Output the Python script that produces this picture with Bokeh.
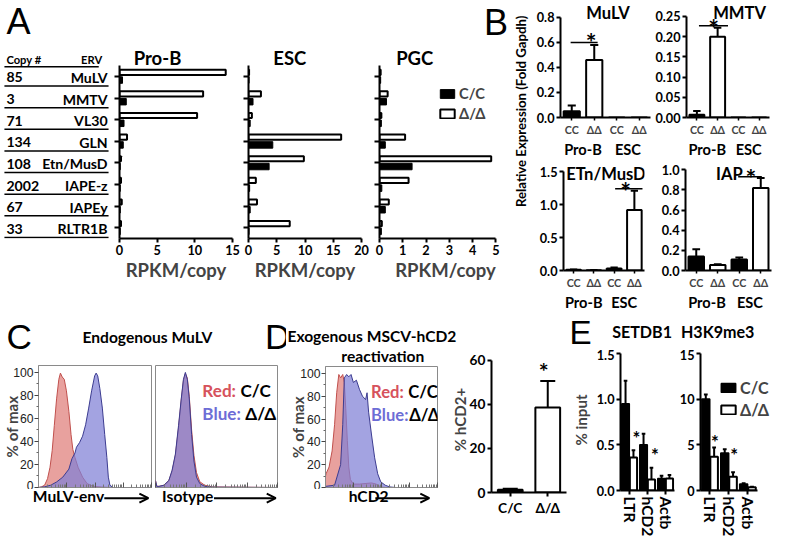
import math
from bokeh.plotting import figure
from bokeh.models import (Range1d, FactorRange, Label, Arrow, OpenHead, FixedTicker,
                          PrintfTickFormatter, Legend, LegendItem, ColumnDataSource)
from bokeh.layouts import row, column
from bokeh.core.properties import value
from bokeh.embed import file_html
from bokeh.resources import INLINE

# ---------------------------------------------------------------- data
erv_names = ["MuLV", "MMTV", "VL30", "GLN", "Etn/MusD", "IAPE-z", "IAPEy", "RLTR1B"]
copy_numbers = ["85", "3", "71", "134", "108", "2002", "67", "33"]
prob_dd = [14.1, 11.1, 10.3, 1.0, 0.2, 0.2, 0.3, 0.2]
prob_cc = [0.4, 0.9, 0.6, 0.5, 0.1, 0.1, 0.1, 0.1]
esc_dd = [0.1, 2.2, 0.6, 16.4, 9.8, 1.3, 1.5, 7.3]
esc_cc = [0.1, 0.8, 0.3, 4.3, 3.65, 0.2, 0.3, 0.1]
pgc_dd = [0.05, 0.35, 0.08, 1.1, 4.8, 1.25, 0.4, 0.1]
pgc_cc = [0.05, 0.3, 0.08, 0.25, 1.4, 0.1, 0.25, 0.08]
ticks_prob = [0, 5, 10, 15]
ticks_esc = [0, 5, 10, 15, 20]
ticks_pgc = [0, 1, 2, 3, 4, 5]

b_factors = [("Pro-B", "CC"), ("Pro-B", "ΔΔ"), ("ESC", "CC"), ("ESC", "ΔΔ")]
b_fill = ["black", "white", "black", "white"]
mulv_val = [0.05, 0.46, 0.0, 0.0]
mulv_err = [0.045, 0.12, 0.0, 0.0]
mmtv_val = [0.007, 0.20, 0.0, 0.0]
mmtv_err = [0.009, 0.022, 0.0, 0.0]
etn_val = [0.01, 0.005, 0.03, 0.92]
etn_err = [0.006, 0.003, 0.015, 0.29]
iap_val = [0.14, 0.055, 0.11, 0.82]
iap_err = [0.07, 0.008, 0.02, 0.10]
mulv_ticks = [0.0, 0.2, 0.4, 0.6, 0.8]
mmtv_ticks = [0.0, 0.05, 0.10, 0.15, 0.20, 0.25]
etn_ticks = [0.0, 0.5, 1.0, 1.5]
iap_ticks = [0.0, 0.2, 0.4, 0.6, 0.8, 1.0]
# significance bars: (x start, x end, y) in bar-slot units
mulv_sig = (0.45, 1.65, 0.60)
mmtv_sig = (0.6, 2.0, 0.227)
etn_sig = (2.55, 3.9, 1.24)
iap_sig = (2.45, 3.55, 0.93)

# flow histograms (x: channel position 0-100, y: % of max)
mulv_red_x = [0, 2.7, 5.4, 8, 10.2, 12.1, 14, 16, 18, 19.4, 21, 22.8, 24.7, 26.9, 28.8, 30.4, 32.3, 35, 39, 43, 48.4, 56, 64.5, 100]
mulv_red_y = [0, 0.6, 2, 7.7, 17.6, 32, 54, 77, 94, 99.4, 96, 94, 84, 66, 46, 33, 26, 17.6, 9, 3.4, 1, 0.5, 0, 0]
mulv_blue_x = [0, 5.4, 10.8, 16, 21.5, 26.9, 29.6, 32.3, 33.6, 36.3, 39, 41.7, 44.4, 47, 49.7, 51, 52.4, 54.3, 56.5, 58.6, 60.5, 61.8, 63.2, 65.9, 100]
mulv_blue_y = [0, 0.6, 2, 4.8, 9, 16, 25, 30, 35, 39, 44.6, 54.5, 69, 84, 97, 99.4, 97, 86, 69, 46, 26, 9, 2, 0, 0]
iso_x = [0, 1.1, 2.9, 6.9, 10.9, 13.6, 16.3, 18.9, 21.1, 22.9, 24.5, 26.1, 27.7, 29.6, 31.5, 33.6, 36.3, 40.3, 47, 100]
iso_blue_y = [6, 1, 1, 2, 6, 15, 29, 54, 77, 94, 100, 94, 77, 46, 23, 9, 3.4, 1, 0.3, 0]
iso_red_y = [6, 1, 1, 2, 6, 14, 28, 52, 76, 93, 99, 95, 79, 50, 28, 13, 5, 2, 0.5, 0]
hcd2_red_x = [0, 0.5, 3.2, 5.9, 8.1, 10, 11.9, 13.5, 15.4, 16.8, 18.1, 19.5, 20.8, 22.2, 24.9, 30.3, 41.1, 45.2, 49.3, 55, 100]
hcd2_red_y = [10, 12, 18, 32, 55, 83, 99, 96, 99, 92, 69, 41, 18, 7, 3, 3, 4, 3, 0.5, 0, 0]
hcd2_blue_x = [0, 8.1, 13.5, 15.4, 16.8, 18.9, 20.8, 22.8, 24.9, 27.6, 30.3, 33, 35.8, 37.1, 38.5, 41.1, 43.9, 46.6, 49.3, 53.3, 57.4, 62.8, 100]
hcd2_blue_y = [1, 2, 20, 55, 96, 99, 97, 99, 92, 94, 86, 80, 77, 83, 66, 46, 26, 12, 5, 2, 0.5, 0, 0]
flow_ticks = [0, 20, 40, 60, 80, 100]

hcd2_cats = ["C/C", "Δ/Δ"]
hcd2_pct = [1.2, 38.5]
hcd2_err = [0.5, 12.0]
hcd2_ticks = [0, 20, 40, 60]

e_targets = ["LTR", "hCD2", "Actb"]
setdb1_cc = [0.95, 0.50, 0.13]
setdb1_cc_err = [0.25, 0.12, 0.03]
setdb1_dd = [0.36, 0.12, 0.13]
setdb1_dd_err = [0.08, 0.13, 0.04]
h3_cc = [10.0, 4.1, 0.7]
h3_cc_err = [0.5, 0.4, 0.1]
h3_dd = [3.7, 1.5, 0.35]
h3_dd_err = [1.0, 0.5, 0.05]
setdb1_ticks = [0.0, 0.5, 1.0, 1.5]
h3_ticks = [0, 5, 10, 15]

# ---------------------------------------------------------------- helpers
SX = 777 / 793
SY = 540 / 556
SF = (SX + SY) / 2
BOLD = "Lato"
ARIAL = "Liberation Sans"
RED_T = "#d6525c"
BLUE_T = "#6d6dd6"


def X(v):
    return int(round(v * SX))


def Y(v):
    return int(round(v * SY))


def F(v):
    return f"{v * SF:.1f}px"


def lin(pa, va, pb, vb, p):
    return va + (p - pa) / (pb - pa) * (vb - va)


class Map:
    def __init__(self, frame, xd, yd):
        self.fx0, self.fx1, self.fy0, self.fy1 = frame
        self.x0, self.x1 = xd
        self.yt, self.yb = yd

    def dx(self, px):
        return lin(self.fx0, self.x0, self.fx1, self.x1, px)

    def dy(self, py):
        return lin(self.fy0, self.yt, self.fy1, self.yb, py)


def mkfig(cell, frame, xr, yr, xd, yd, axes=True):
    x0, x1, y0, y1 = cell
    fx0, fx1, fy0, fy1 = frame
    kw = {}
    if not axes:
        kw = dict(x_axis_type=None, y_axis_type=None)
    p = figure(width=X(x1) - X(x0), height=Y(y1) - Y(y0), x_range=xr, y_range=yr,
               output_backend="svg", toolbar_location=None, title=None,
               min_border_left=X(fx0) - X(x0), min_border_right=X(x1) - X(fx1),
               min_border_top=Y(fy0) - Y(y0), min_border_bottom=Y(y1) - Y(fy1), **kw)
    p.outline_line_color = None
    p.grid.visible = False
    p.background_fill_color = "white"
    p.border_fill_color = "white"
    return p, Map(frame, xd, yd)


def textfig(cell):
    x0, x1, y0, y1 = cell
    return mkfig(cell, cell, Range1d(x0, x1), Range1d(y1, y0), (x0, x1), (y0, y1), axes=False)


def lab(p, m, px, py, text, size, color="black", font=BOLD, style="bold",
        align="left", baseline="middle", angle=0.0):
    p.add_layout(Label(x=m.dx(px), y=m.dy(py), text=text, text_font=font,
                       text_font_style=style, text_font_size=F(size), text_color=color,
                       text_align=align, text_baseline=baseline, angle=angle))


def letter(p, m, px, py_center, text, size):
    # panel letter: py_center is the vertical centre of the capital
    lab(p, m, px, py_center + 1.5, text, size, font=ARIAL, style="normal")


def star(p, m, px, py, size):
    lab(p, m, px, py + 0.27 * size, "*", size, align="center")


def arrow(p, m, px0, px1, py):
    p.add_layout(Arrow(end=OpenHead(size=9, line_width=2), line_width=2,
                       x_start=m.dx(px0), x_end=m.dx(px1), y_start=m.dy(py), y_end=m.dy(py)))


def style_axis(ax, lw=2.0, tick_out=4, size=13, font=BOLD, style="bold", standoff=2):
    ax.axis_line_width = lw
    ax.axis_line_color = "black"
    ax.major_tick_line_width = lw
    ax.major_tick_line_color = "black"
    ax.major_tick_out = tick_out
    ax.major_tick_in = 0
    ax.minor_tick_line_color = None
    ax.major_label_text_font = font
    ax.major_label_text_font_style = style
    ax.major_label_text_font_size = F(size)
    ax.major_label_text_color = "black"
    ax.major_label_standoff = standoff


def hide_labels(ax):
    ax.major_label_text_color = None
    ax.major_label_text_font_size = "3px"
    ax.major_label_standoff = 0


def ylabel(ax, text, size, standoff):
    ax.axis_label = text
    ax.axis_label_text_font = BOLD
    ax.axis_label_text_font_style = "bold"
    ax.axis_label_text_font_size = F(size)
    ax.axis_label_standoff = standoff


def legend_for(p, r_cc, r_dd, loc, size):
    lg = Legend(items=[LegendItem(label="C/C", renderers=[r_cc]),
                       LegendItem(label="Δ/Δ", renderers=[r_dd])],
                location=loc, padding=0, margin=0, spacing=3,
                glyph_width=18, glyph_height=11, label_height=16, label_standoff=3,
                border_line_color=None, background_fill_alpha=0,
                label_text_font=BOLD, label_text_font_style="bold",
                label_text_font_size=F(size))
    p.add_layout(lg)


def errbars(p, xs, tops, errs, cap=0.17, lw=2.0):
    xs2 = [x for x, e in zip(xs, errs) if e > 0]
    lo = [t for t, e in zip(tops, errs) if e > 0]
    hi = [t + e for t, e in zip(tops, errs) if e > 0]
    p.segment(x0=xs2, y0=lo, x1=xs2, y1=hi, line_color="black", line_width=lw)
    p.segment(x0=[x - cap for x in xs2], y0=hi, x1=[x + cap for x in xs2], y1=hi,
              line_color="black", line_width=lw)


# ---------------------------------------------------------------- panel A
A_AT, A_FB = 67, 245          # y pixel of the category axis top / bottom
A_TOPV = lin(A_AT, -0.5, A_FB, 7.5, 0)   # index value at the very top of the band
a_idx = list(range(len(erv_names)))

pt, mt = mkfig((0, 113, 0, 322), (0, 113, 0, A_FB), Range1d(0, 113), Range1d(7.5, A_TOPV),
               (0, 113), (A_TOPV, 7.5), axes=False)
tsrc = ColumnDataSource(dict(y=[i + 0.05 for i in a_idx], copy=copy_numbers, name=erv_names,
                             ly=[i + 0.45 for i in a_idx]))
pt.text(x=6, y="y", text="copy", source=tsrc, text_font=value(BOLD), text_font_style="bold",
        text_font_size=F(14.5), text_baseline="middle", text_align="left")
pt.text(x=109, y="y", text="name", source=tsrc, text_font=value(BOLD), text_font_style="bold",
        text_font_size=F(14.5), text_baseline="middle", text_align="right")
pt.segment(x0=4, x1=110, y0="ly", y1="ly", source=tsrc, line_color="black", line_width=1.5)
pt.segment(x0=[4], x1=[100], y0=[-0.45], y1=[-0.45], line_color="black", line_width=1.5)
letter(pt, mt, 6, 20.5, "A", 37)
lab(pt, mt, 6, 61, "Copy #", 11.5)
lab(pt, mt, 82, 61, "ERV", 11.5)


def a_chart(cell, frame, axis_right, xmax, ticks, dd, cc, title, title_x):
    fx0, fx1, fy0, fy1 = frame
    xend = lin(fx0, 0.0, axis_right, xmax, fx1)
    p, m = mkfig(cell, frame, Range1d(0, xend), Range1d(7.5, A_TOPV), (0, xend), (A_TOPV, 7.5))
    src = ColumnDataSource(dict(y_dd=[i - 0.19 for i in a_idx], y_cc=[i + 0.17 for i in a_idx],
                                dd=dd, cc=cc))
    r_dd = p.hbar(y="y_dd", left=0, right="dd", height=0.24, source=src,
                  fill_color="white", line_color="black", line_width=2)
    r_cc = p.hbar(y="y_cc", left=0, right="cc", height=0.30, source=src,
                  fill_color="black", line_color="black", line_width=1)
    style_axis(p.xaxis[0], size=13)
    p.xaxis.ticker = FixedTicker(ticks=ticks)
    p.xaxis.bounds = (0, xmax)
    p.xaxis.axis_label = "RPKM/copy"
    p.xaxis.axis_label_text_font = BOLD
    p.xaxis.axis_label_text_font_style = "bold"
    p.xaxis.axis_label_text_font_size = F(19)
    p.xaxis.axis_label_standoff = 1
    p.xaxis.axis_label_text_align = "center"
    style_axis(p.yaxis[0], tick_out=5)
    hide_labels(p.yaxis[0])
    p.yaxis.ticker = FixedTicker(ticks=a_idx)
    p.yaxis.bounds = (-0.5, 7.5)
    lab(p, m, title_x, 59, title, 19, align="center")
    return p, m, r_cc, r_dd


p_prob, m_prob, _, _ = a_chart((113, 247, 0, 322), (121, 237, 0, A_FB), 237, 15, ticks_prob,
                               prob_dd, prob_cc, "Pro-B", 160)
p_esc, m_esc, _, _ = a_chart((247, 380, 0, 322), (253, 368, 0, A_FB), 368, 20, ticks_esc,
                             esc_dd, esc_cc, "ESC", 295)
p_pgc, m_pgc, rcc, rdd = a_chart((380, 522, 0, 322), (387, 522, 0, A_FB), 506, 5, ticks_pgc,
                                 pgc_dd, pgc_cc, "PGC", 423)
legend_for(p_pgc, rcc, rdd, (X(447) - X(387), Y(245) - Y(126)), 15)
letter(p_pgc, m_pgc, 494, 21, "B", 37)

# ---------------------------------------------------------------- panel B
pbl, mbl = textfig((522, 540, 0, 322))
lab(pbl, mbl, 531, 150, "Relative Expression (Fold Gapdh)", 13.5, align="center",
    angle=math.pi / 2)

b_centers = [i + 0.5 for i in range(len(b_factors))]


def b_chart(cell, frame, axis_top_px, ymax, ticks, fmt, vals, errs, sig, star_xy, title, title_xy):
    fx0, fx1, fy0, fy1 = frame
    ytop = lin(fy1, 0.0, axis_top_px, ymax, fy0)
    xr = FactorRange(factors=b_factors, group_padding=0, range_padding=0)
    p, m = mkfig(cell, frame, xr, Range1d(0, ytop), (0, 4), (ytop, 0))
    errbars(p, b_centers, vals, errs, cap=0.18)
    src = ColumnDataSource(dict(x=b_factors, top=vals, fill=b_fill))
    p.vbar(x="x", top="top", width=0.72, source=src, fill_color="fill",
           line_color="black", line_width=2)
    p.segment(x0=[sig[0]], x1=[sig[1]], y0=[sig[2]], y1=[sig[2]], line_color="black",
              line_width=1.5)
    star(p, m, star_xy[0], star_xy[1], 26)
    style_axis(p.yaxis[0], size=13)
    p.yaxis.ticker = FixedTicker(ticks=ticks)
    p.yaxis.formatter = PrintfTickFormatter(format=fmt)
    p.yaxis.bounds = (0, ymax)
    ax = p.xaxis[0]
    ax.axis_line_width = 2
    ax.major_tick_out = 3
    ax.major_tick_in = 0
    ax.major_tick_line_width = 1.5
    ax.major_label_text_font = BOLD
    ax.major_label_text_font_style = "bold"
    ax.major_label_text_font_size = F(11)
    ax.major_label_standoff = 2
    ax.group_text_font = BOLD
    ax.group_text_font_style = "bold"
    ax.group_text_font_size = F(15)
    ax.group_text_color = "black"
    ax.separator_line_alpha = 0
    lab(p, m, title_xy[0], title_xy[1], title, 17, align="center")
    return p


p_mulv = b_chart((540, 665, 0, 165), (572, 663, 0, 125), 18, 0.8, mulv_ticks, "%.1f",
                 mulv_val, mulv_err, mulv_sig, (603, 37), "MuLV", (620, 13))
p_mmtv = b_chart((665, 793, 0, 165), (699, 785, 0, 125), 17, 0.25, mmtv_ticks, "%.2f",
                 mmtv_val, mmtv_err, mmtv_sig, (727, 22), "MMTV", (754, 13))
p_etn = b_chart((540, 665, 165, 322), (575, 657, 165, 283), 177, 1.5, etn_ticks, "%.1f",
                etn_val, etn_err, etn_sig, (638, 191), "ETn/MusD", (618, 180))
p_iap = b_chart((665, 793, 165, 322), (699, 787, 165, 283), 175, 1.0, iap_ticks, "%.1f",
                iap_val, iap_err, iap_sig, (766, 177), "IAP", (744, 180))

# ---------------------------------------------------------------- panels C / D flow
log_minor = [d + 25 * math.log10(k) for d in (0, 25, 50, 75) for k in range(2, 10)]


def flow(cell, frame, ytop, curves, ylab_standoff=None):
    p, m = mkfig(cell, frame, Range1d(0, 100), Range1d(0, ytop), (0, 100), (ytop, 0))
    p.outline_line_color = "#8a8a8a"
    p.outline_line_width = 1
    for xs, ys, fill, line, alpha in curves:
        p.varea(x=xs, y1=0, y2=ys, fill_color=fill, fill_alpha=alpha)
        p.line(xs, ys, line_color=line, line_width=1)
    xa = p.xaxis[0]
    xa.ticker = FixedTicker(ticks=[0, 25, 50, 75, 100], minor_ticks=log_minor)
    xa.axis_line_color = "#8a8a8a"
    xa.major_tick_in = 5
    xa.major_tick_out = 0
    xa.minor_tick_in = 3
    xa.minor_tick_out = 0
    xa.major_tick_line_color = "#555555"
    xa.minor_tick_line_color = "#777777"
    hide_labels(xa)
    if ylab_standoff is not None:
        ya = p.yaxis[0]
        ya.ticker = FixedTicker(ticks=flow_ticks, minor_ticks=[10, 30, 50, 70, 90])
        ya.axis_line_color = "#8a8a8a"
        ya.major_tick_out = 4
        ya.major_tick_in = 0
        ya.minor_tick_out = 2
        ya.minor_tick_in = 0
        ya.major_tick_line_color = "#444444"
        ya.minor_tick_line_color = "#666666"
        ya.major_label_text_font = ARIAL
        ya.major_label_text_font_size = F(12.5)
        ya.major_label_text_color = "#222222"
        ya.major_label_standoff = 1
        ylabel(ya, "% of max", 15.5, ylab_standoff)
    else:
        p.yaxis.visible = False
    return p, m


RED_F, RED_L = "#e4908d", "#c0504d"
BLUE_F, BLUE_L = "#7f7fd6", "#3c3c90"
FL_B = 503

pch, mch = textfig((0, 292, 322, 370))
letter(pch, mch, 6, 344.5, "C", 36)
lab(pch, mch, 150, 346, "Endogenous MuLV", 16, align="center")
letter(pch, mch, 270, 344.5, "D", 36)

p_c1, m_c1 = flow((0, 156, 370, FL_B), (30, 154, 376, 501), 106,
                  [(mulv_red_x, mulv_red_y, RED_F, RED_L, 0.85),
                   (mulv_blue_x, mulv_blue_y, BLUE_F, BLUE_L, 0.72)], ylab_standoff=-11)

p_c2, m_c2 = flow((156, 292, 370, FL_B), (158, 283, 376, 501), 106,
                  [(iso_x, iso_red_y, RED_F, RED_L, 0.85),
                   (iso_x, iso_blue_y, BLUE_F, BLUE_L, 0.72)])
lab(p_c2, m_c2, 206, 402, "Red:", 17.5, color=RED_T)
lab(p_c2, m_c2, 245, 402, "C/C", 17.5)
lab(p_c2, m_c2, 206, 425, "Blue:", 17.5, color=BLUE_T)
lab(p_c2, m_c2, 250, 425, "Δ/Δ", 17.5)

pcf, mcf = textfig((0, 292, FL_B, 556))
lab(pcf, mcf, 33, 510, "MuLV-env", 16)
arrow(pcf, mcf, 106, 151, 512)
lab(pcf, mcf, 165, 510, "Isotype", 16)
arrow(pcf, mcf, 218, 281, 512)

D_HT = 356
pdt, mdt = textfig((292, 580, 322, D_HT))
lab(pdt, mdt, 293, 345, "Exogenous MSCV-hCD2", 16)

pdh, mdh = textfig((292, 456, D_HT, 377))
lab(pdh, mdh, 376, 366, "reactivation", 16, align="center")

p_d1, m_d1 = flow((292, 456, 377, FL_B), (323, 446, 377, 501), 106,
                  [(hcd2_red_x, hcd2_red_y, RED_F, RED_L, 0.85),
                   (hcd2_blue_x, hcd2_blue_y, BLUE_F, BLUE_L, 0.72)], ylab_standoff=-10)
lab(p_d1, m_d1, 373, 403, "Red:", 17, color=RED_T)
lab(p_d1, m_d1, 414, 403, "C/C", 17)
lab(p_d1, m_d1, 373, 427, "Blue:", 17, color=BLUE_T)
lab(p_d1, m_d1, 415, 427, "Δ/Δ", 17)

pdf, mdf = textfig((292, 456, FL_B, 556))
lab(pdf, mdf, 326, 510, "hCD2", 16)
arrow(pdf, mdf, 365, 444, 512)

# D bar chart
d2_frame = (492, 578, D_HT, 507)
d2_top = lin(507, 0.0, 370, 60.0, D_HT)
p_d2, m_d2 = mkfig((456, 580, D_HT, 556), d2_frame, FactorRange(factors=hcd2_cats),
                   Range1d(0, d2_top), (0, 2), (d2_top, 0))
errbars(p_d2, [0.5, 1.5], hcd2_pct, hcd2_err, cap=0.2)
p_d2.vbar(x=hcd2_cats, top=hcd2_pct, width=0.66, fill_color=["black", "white"],
          line_color="black", line_width=2)
style_axis(p_d2.yaxis[0], size=14)
p_d2.yaxis.ticker = FixedTicker(ticks=hcd2_ticks)
p_d2.yaxis.bounds = (0, 60)
ylabel(p_d2.yaxis[0], "% hCD2+", 15.5, -2)
style_axis(p_d2.xaxis[0], size=14, tick_out=4)
star(p_d2, m_d2, 552, 375, 24)

# ---------------------------------------------------------------- panel E
E_TOP = 359
peh, meh = textfig((580, 793, 322, E_TOP))
letter(peh, meh, 581, 340, "E", 34)
lab(peh, meh, 655, 341, "SETDB1", 16.5, align="center")
lab(peh, meh, 732, 341, "H3K9me3", 16.5, align="center")


def e_chart(cell, frame, axis_right, ymax, ticks, fmt, cc, cc_err, dd, dd_err, stars, ylab=None):
    fx0, fx1, fy0, fy1 = frame
    ytop = lin(fy1, 0.0, 363, ymax, fy0)
    xend = lin(fx0, 0.0, axis_right, 3.0, fx1)
    p, m = mkfig(cell, frame, Range1d(0, xend), Range1d(0, ytop), (0, xend), (ytop, 0))
    xc = [i + 0.5 - 0.22 for i in range(3)]
    xd = [i + 0.5 + 0.22 for i in range(3)]
    errbars(p, xc, cc, cc_err, cap=0.1, lw=2)
    errbars(p, xd, dd, dd_err, cap=0.1, lw=2)
    r_cc = p.vbar(x=xc, top=cc, width=0.42, fill_color="black", line_color="black", line_width=1.5)
    r_dd = p.vbar(x=xd, top=dd, width=0.40, fill_color="white", line_color="black", line_width=2)
    for sx, sy in stars:
        star(p, m, sx, sy, 19)
    style_axis(p.yaxis[0], size=13)
    p.yaxis.ticker = FixedTicker(ticks=ticks)
    p.yaxis.formatter = PrintfTickFormatter(format=fmt)
    p.yaxis.bounds = (0, ymax)
    if ylab:
        ylabel(p.yaxis[0], ylab, 15.5, 4)
    style_axis(p.xaxis[0], size=16, tick_out=4)
    p.xaxis.ticker = FixedTicker(ticks=[i + 0.5 for i in range(3)])
    p.xaxis.major_label_overrides = {i + 0.5: t for i, t in enumerate(e_targets)}
    p.xaxis.major_label_orientation = "vertical"
    p.xaxis.bounds = (0, 3)
    return p, m, r_cc, r_dd


p_e1, m_e1, _, _ = e_chart((580, 690, E_TOP, 556), (627, 688, E_TOP, 505), 688, 1.5,
                           setdb1_ticks, "%.1f", setdb1_cc, setdb1_cc_err, setdb1_dd,
                           setdb1_dd_err, [(645, 445), (666, 463)], ylab="% input")
p_e2, m_e2, rcc2, rdd2 = e_chart((690, 793, E_TOP, 556), (713, 793, E_TOP, 505), 772, 15,
                                 h3_ticks, "%d", h3_cc, h3_cc_err, h3_dd, h3_dd_err,
                                 [(728, 450), (748, 463)])
legend_for(p_e2, rcc2, rdd2, (X(733) - X(713), Y(505) - Y(431)), 16.5)

# ---------------------------------------------------------------- layout
top = row(pt, p_prob, p_esc, p_pgc, pbl,
          column(row(p_mulv, p_mmtv), row(p_etn, p_iap)))
col_c = column(pch, row(p_c1, p_c2), pcf)
col_d = column(pdt, row(column(pdh, p_d1, pdf), p_d2))
col_e = column(peh, row(p_e1, p_e2))
bottom = row(col_c, col_d, col_e)
page = column(top, bottom)

open("out.html", "w").write(file_html(page, INLINE))
